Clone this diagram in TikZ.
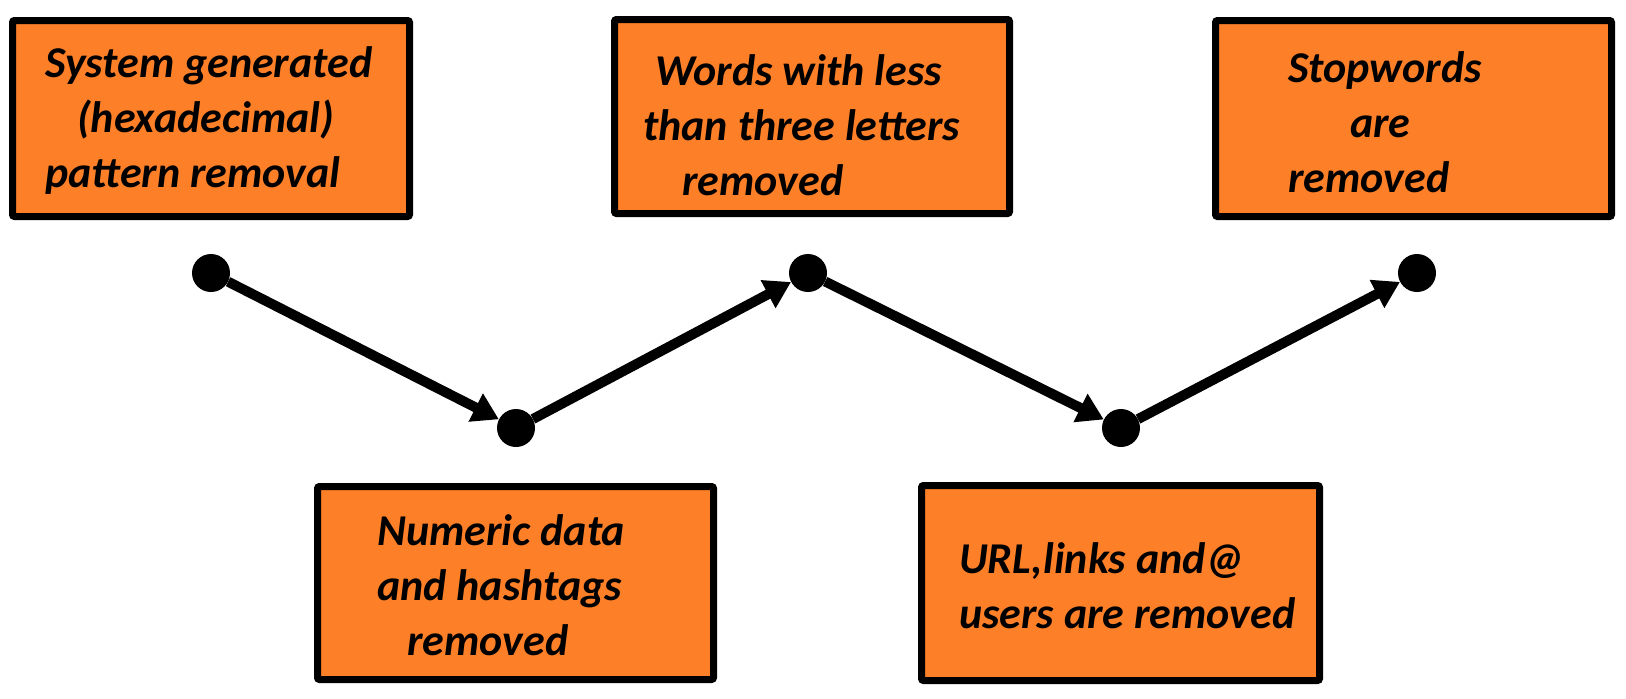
\documentclass[tikz,border=0pt]{standalone}
\usepackage{fontspec}
\setmainfont{Carlito}
\usetikzlibrary{arrows.meta}
\usetikzlibrary{positioning}
\definecolor{stageorange}{RGB}{253,128,40}

\begin{document}
\begin{tikzpicture}[x=1pt,y=-1pt,
        stagebox/.style={draw=black, fill=stageorange, line width=7pt, rounded corners=2pt, inner sep=0pt},
        stagetext/.style={align=left, inner sep=0pt, anchor=west, font=\fontsize{44}{55}\selectfont\bfseries\itshape},
        dot/.style={circle, fill=black, inner sep=0pt, minimum size=38pt},
        flow/.style={line width=10pt, -{Triangle[length=26pt,width=30pt]}}]
                \useasboundingbox (0,0) rectangle (1626,699);
                % stages on top
                \node[stagebox, minimum width=397pt, minimum height=196pt] (sys) at (211,118.5) {};
                \node[stagebox, minimum width=395pt, minimum height=194pt] (words) at (812,116.5) {};
                \node[stagebox, minimum width=396pt, minimum height=196pt] (stop) at (1413.5,118.5) {};
                % stages below
                \node[stagebox, minimum width=396pt, minimum height=193pt] (num) at (515.5,583) {};
                \node[stagebox, minimum width=398pt, minimum height=195pt] (url) at (1120.5,583) {};
                \node[stagetext] (sys-t) at (45,121) {\strut System generated\\\hspace*{32pt}(hexadecimal)\\pattern removal\strut};
                \node[stagetext] (words-t) at (643,129) {\strut\hspace*{12pt}Words with less\\than three letters\\\hspace*{39pt}removed\strut};
                \node[stagetext] (stop-t) at (1288,126) {\strut Stopwords\\\hspace*{62pt}are\\removed\strut};
                \node[stagetext] (num-t) at (377,589) {\strut Numeric data\\and hashtags\\\hspace*{30pt}removed\strut};
                \node[stagetext] (url-t) at (959,590) {\strut URL,links and@\\users are removed\strut};
                % the zigzag path
                \node[dot] (d1) at (211,273) {};
                \node[dot] (d2) at (516,428) {};
                \node[dot] (d3) at (808,273) {};
                \node[dot] (d4) at (1121,428) {};
                \node[dot] (d5) at (1417,273) {};
                \draw[flow] (d1) -- (d2);
                \draw[flow] (d2) -- (d3);
                \draw[flow] (d3) -- (d4);
                \draw[flow] (d4) -- (d5);
            \end{tikzpicture}
\end{document}
